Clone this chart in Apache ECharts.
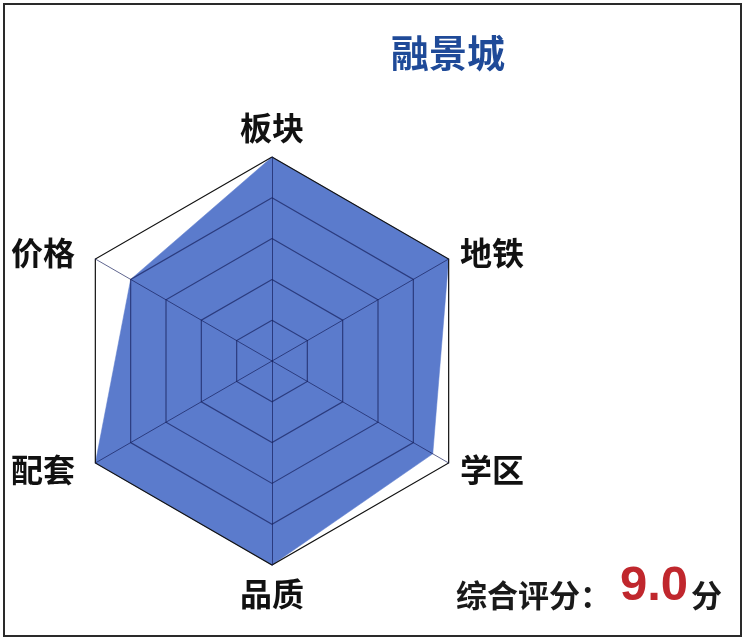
<!DOCTYPE html>
<html>
<head>
<meta charset="utf-8">
<script src="https://cdn.jsdelivr.net/npm/echarts@6/dist/echarts.min.js"></script>
<style>
html,body{margin:0;padding:0;background:#fff;}
#chart{width:746px;height:642px;}
</style>
</head>
<body>
<div id="chart"></div>
<script>
var titleText = '融景城';
var indicatorNames = ['板块', '价格', '配套', '品质', '学区', '地铁'];
var leftNames = ['价格', '配套'];
var indicatorMax = 10;
var scores = [10, 8, 10, 10, 9.1, 10];
var scoreLabel = '综合评分：';
var scoreValue = '9.0';
var scoreUnit = '分';

var CJK = '"Noto Sans CJK SC", "Noto Sans", sans-serif';
var lineCol = 'rgba(20,30,90,0.68)';
var chart = echarts.init(document.getElementById('chart'));
chart.setOption({
  backgroundColor: '#fff',
  animation: false,
  graphic: [
    {type: 'rect', shape: {x: 4, y: 4, width: 737, height: 632},
     style: {fill: 'none', stroke: '#2a2a2a', lineWidth: 2}},
    {type: 'text', left: 391, top: 34,
     style: {text: titleText, fill: '#1f4a98', font: 'bold 38px ' + CJK}},
    {type: 'text', left: 456, top: 562,
     style: {
       text: '{a|' + scoreLabel + '}{b|' + scoreValue + '}{a|' + scoreUnit + '}',
       rich: {
         a: {fontSize: 31, fontWeight: 'bold', fontFamily: CJK, fill: '#1a1a1a', color: '#1a1a1a', verticalAlign: 'bottom'},
         b: {fontSize: 49, fontWeight: 'bold', fontFamily: '"Liberation Sans", Arial, sans-serif', fill: '#c0272d', color: '#c0272d', verticalAlign: 'bottom', padding: [0, 3, 0, 9]}
       }
     }}
  ],
  radar: {
    center: [272, 361],
    radius: 204,
    startAngle: 90,
    shape: 'polygon',
    splitNumber: 5,
    z: 5,
    nameGap: 13,
    axisName: {
      color: '#111', fontSize: 32, fontWeight: 'bold', fontFamily: CJK,
      formatter: function (n) { return leftNames.indexOf(n) >= 0 ? '{l|' + n + '}' : '{n|' + n + '}'; },
      rich: {
        l: {color: '#111', fontSize: 32, fontWeight: 'bold', fontFamily: CJK, padding: [0, 9, 0, 0]},
        n: {color: '#111', fontSize: 32, fontWeight: 'bold', fontFamily: CJK}
      }
    },
    indicator: indicatorNames.map(function (n) { return {name: n, min: 0, max: indicatorMax}; }),
    splitArea: {show: false},
    splitLine: {lineStyle: {width: 1.2, color: [lineCol, lineCol, lineCol, lineCol, lineCol, '#111']}},
    axisLine: {lineStyle: {width: 1, color: lineCol}}
  },
  series: [{
    type: 'radar',
    z: 2,
    symbol: 'none',
    lineStyle: {width: 0.5, color: '#5b7bcc'},
    areaStyle: {color: '#5b7bcc', opacity: 1},
    data: [{value: scores}]
  }]
});
</script>
</body>
</html>
